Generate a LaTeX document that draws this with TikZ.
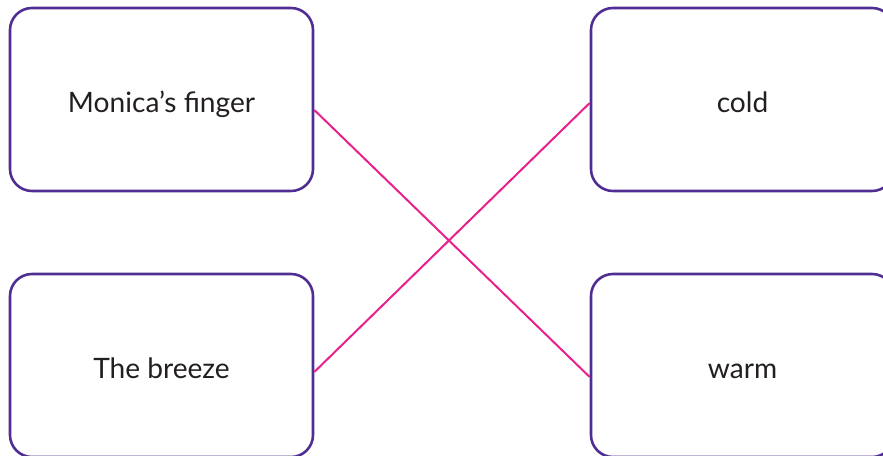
\documentclass[tikz,border=0pt]{standalone}
\usepackage{fontspec}
\setmainfont{Lato}
\usetikzlibrary{calc}

\definecolor{boxpurple}{HTML}{4F2D92}
\definecolor{linkpink}{HTML}{E8208C}
\definecolor{inkgray}{HTML}{231F20}

\tikzset{
  matchbox/.style={draw=boxpurple, line width=2.2pt, rounded corners=0.66cm,
    minimum width=9.09cm, minimum height=5.49cm, fill=white,
    text height=0.81cm, text depth=0pt,
    text=inkgray, font=\fontsize{24}{28}\selectfont},
  link/.style={draw=linkpink, line width=1.7pt}
}

\begin{document}
\begin{tikzpicture}[x=0.03cm, y=-0.03cm]
        \useasboundingbox (0,0) rectangle (883,456);
        \node[matchbox] (finger) at (161.5,99.5) {Monica’s finger};
        \node[matchbox] (breeze) at (161.5,365.5) {The breeze};
        \node[matchbox] (cold) at (742.5,99.5) {cold};
        \node[matchbox] (warm) at (742.5,365.5) {warm};
        \draw[link] ($(finger.east)+(0,10.5)$) -- ($(warm.west)+(0,11.5)$);
        \draw[link] ($(breeze.east)+(0,6.5)$) -- ($(cold.west)+(0,3.5)$);
      \end{tikzpicture}
\end{document}
